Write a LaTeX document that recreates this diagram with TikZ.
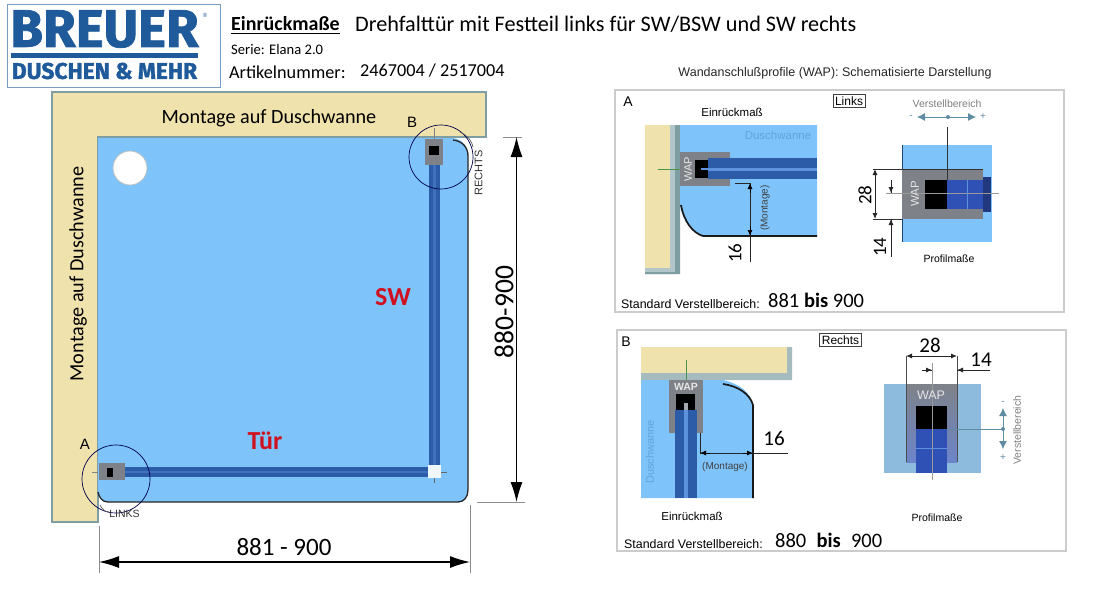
\documentclass[tikz,border=0pt]{standalone}
\usepackage{fontspec}
\setmainfont{Carlito}
\newfontfamily\logofont[BoldFeatures={FakeBold=1.5}]{Fira Sans}
\newfontfamily\helvfont{Liberation Sans}
\usetikzlibrary{arrows.meta}
\definecolor{logoblue}{HTML}{1F5A9A}
\definecolor{tubblue}{HTML}{7EC4FB}
\definecolor{tubbeige}{HTML}{F0E2AC}
\definecolor{wallgrey}{HTML}{7F9EA3}
\definecolor{glassblue}{HTML}{2C5BA8}
\definecolor{glasslight}{HTML}{5C93DC}
\definecolor{wapgrey}{HTML}{7E8288}
\definecolor{paneledge}{HTML}{CCCCCC}
\definecolor{arrowteal}{HTML}{5F8CA2}
\definecolor{markred}{HTML}{D0101E}
\definecolor{palewater}{HTML}{8DBBDD}
\definecolor{tubword}{HTML}{62A3DC}
\definecolor{profileblue}{HTML}{2F50B5}
\tikzset{
  sized/.style={font=\fontsize{#1}{#1}\selectfont},
  helv/.style={font=\helvfont\fontsize{#1}{#1}\selectfont},
  txt/.style={inner sep=0pt},
  marktext/.style={inner sep=0pt,text=markred,font=\bfseries\fontsize{26}{26}\selectfont},
  panelbox/.style={draw=paneledge,line width=1.3pt,fill=white},
  tagbox/.style={draw=black!75,line width=0.8pt,inner sep=2pt,helv=12},
  bigdim/.style={line width=1.2pt,{Latex[length=20pt,width=12pt]}-{Latex[length=20pt,width=12pt]}},
  smalldim/.style={line width=0.9pt,black!85},
  tinytip/.style={-{Latex[length=6pt,width=5pt]}},
  extline/.style={draw=black!45,line width=0.8pt},
  tealtip/.style={draw=arrowteal,line width=0.8pt,-{Latex[length=8pt,width=8pt]}},
  whitewap/.style={inner sep=0pt,text=white!90!black,helv=#1},
}
\begin{document}
\begin{tikzpicture}[x=1pt,y=-1pt]
  \useasboundingbox (0,0) rectangle (1116,592);
  % logo
  \draw[draw=logoblue!60,line width=1pt] (7,4) rectangle (220,87);
  \node[txt,text=logoblue] (brand) at (104.5,29) {\logofont\bfseries\fontsize{53}{53}\selectfont BREUER};
  \node[txt,text=logoblue,helv=6] (regmark) at (205,15) {®};
  \fill[logoblue] (11,53) rectangle (198,58);
  \node[txt,text=logoblue] (slogan) at (104.5,71) {\logofont\bfseries\fontsize{22.8}{22.8}\selectfont DUSCHEN \& MEHR};
  % header
  \node[txt,sized=20,anchor=base west] (title) at (231,30) {\bfseries Einrückmaße};
  \draw[line width=0.9pt] (231,33.5) -- (340,33.5);
  \node[txt,sized=22.2,anchor=base west] (subtitle) at (355,31) {Drehfalttür mit Festteil links für SW/BSW und SW rechts};
  \node[txt,sized=14.6,anchor=base west] (series) at (231,54) {Serie: Elana 2.0};
  \node[txt,sized=18.2,anchor=base west] (articlelabel) at (229,78) {Artikelnummer:};
  \node[txt,sized=18.2,anchor=base west] (articleno) at (360,76) {2467004 / 2517004};
  \node[txt,helv=12.5,text=black!85] (waptitle) at (835,73) {Wandanschlußprofile (WAP): Schematisierte Darstellung};
  % plan
  \draw[fill=tubbeige,draw=wallgrey,line width=2pt] (52,92) -- (486,92) -- (486,137) -- (98,137) -- (98,522) -- (52,522) -- cycle;
  \fill[tubblue] (98,138) -- (453,138) .. controls (462,139) and (468,146) .. (468,156) -- (468,490) .. controls (468,497) and (464,502) .. (458,502) -- (108,502) .. controls (102,502) and (98,497) .. (98,492) -- cycle;
  \draw[line width=1.3pt,black!85] (453,140) .. controls (462,141) and (468,147) .. (468,156) -- (468,490) .. controls (468,497) and (464,502) .. (458,502) -- (108,502) .. controls (102,502) and (99,497) .. (98,492);
  \draw[fill=white,draw=black!25,line width=0.8pt] (130,168) circle (17);
  % glass
  \fill[glassblue] (428.5,150) rectangle (440,466);
  \fill[glassblue!60!glasslight] (433,165) rectangle (435.5,466);
  \fill[glassblue] (120,467) rectangle (428,477);
  \fill[glassblue!60!glasslight] (125,471) rectangle (428,473);
  \fill[black!12!tubblue!10!white] (427.5,465) rectangle (441,478);
  \draw[black!60,line width=0.6pt] (441,472) -- (447,472) (434,478) -- (434,483);
  % wall profiles
  \fill[wapgrey] (425,139) rectangle (443,165);
  \fill[black] (429,146) rectangle (439,155);
  \fill[wapgrey] (98.5,463) rectangle (125,480);
  \fill[black] (107,468) rectangle (113,477);
  \draw[black!50,line width=0.8pt] (434,128) -- (434,139) (92,472) -- (98,472);
  \draw[draw=black!70!blue,line width=0.7pt] (441,157) circle (32) (116,479) circle (34);
  \draw[black!65,line width=0.7pt] (460,132) .. controls (468,136) and (472,141) .. (473,147) (100,505) .. controls (102,509) and (105,512) .. (109,512);
  \node[txt,helv=11,text=black!80,rotate=90] (rechtstag) at (478.5,173) {RECHTS};
  \node[txt,helv=10.5,text=black!80] (linkstag) at (124.5,513.5) {LINKS};
  \node[txt,sized=20.2] (montagetop) at (269,118) {Montage auf Duschwanne};
  \node[txt,sized=20.2,rotate=90] (montageleft) at (78,274) {Montage auf Duschwanne};
  \node[txt,helv=15] (detailB) at (412,122) {B};
  \node[txt,helv=15] (detailA) at (85,444) {A};
  \node[marktext] (fixedpart) at (393,297) {SW};
  \node[marktext] (doorpart) at (265,441) {Tür};
  % overall dimensions
  \coordinate (dimtop) at (516.5,137);
  \coordinate (dimbot) at (516.5,502);
  \coordinate (dimleft) at (99,562);
  \coordinate (dimright) at (470,562);
  \draw[extline] (503,137) -- (522,137);
  \draw[extline] (477,502) -- (525,502);
  \draw[extline] (99,526) -- (99,573);
  \draw[extline] (470,505) -- (470,573);
  \draw[bigdim] (dimtop) -- (dimbot);
  \draw[bigdim] (dimleft) -- (dimright);
  \node[txt,sized=27.5,rotate=90] (heightlabel) at (504,312) {880-900};
  \node[txt,sized=25] (widthlabel) at (284,547) {881 - 900};
  % panel A
  \draw[panelbox] (615,90) rectangle (1064,312);
  \node[txt,helv=14] (panelA) at (628,102) {A};
  \node[tagbox] (linksbox) at (849,101) {Links};
  \node[txt,helv=11.5] (einrueckA) at (732,112) {Einrückmaß};
  \fill[tubbeige] (645,125) rectangle (670,268);
  \fill[wallgrey!60] (670,125) rectangle (675,268) (645,268) rectangle (675,274);
  \fill[wallgrey] (675,125) rectangle (680,274) (645,272) rectangle (680,274);
  \fill[tubblue] (680,125) -- (817,125) -- (817,236) -- (703,236) .. controls (692,232) and (682,220) .. (680,205) -- cycle;
  \draw[line width=1.7pt,black!90] (681,205) .. controls (684,222) and (693,233) .. (703,236) -- (817,236);
  \node[txt,helv=11.5,text=tubword] (tubA) at (778,135) {Duschwanne};
  \fill[wapgrey] (680,152) rectangle (730,186);
  \fill[glassblue] (708,158) rectangle (817,179);
  \fill[glasslight] (700,167.5) rectangle (817,170.5);
  \fill[black] (695,160) rectangle (708,178);
  \fill[glasslight] (701,168) rectangle (708,170);
  \node[whitewap=11,rotate=90] (wapA) at (688,169) {WAP};
  \draw[draw=green!40!black!70,line width=1pt] (658,169) -- (680,169);
  \coordinate (anchorA) at (750,183);
  \coordinate (curveA) at (750,236);
  \coordinate (tailA) at (750,262);
  \draw[smalldim] (735,183) -- (anchorA);
  \draw[smalldim] (anchorA) -- (tailA);
  \draw[smalldim,tinytip,draw=black] (750,193) -- (anchorA);
  \draw[smalldim,tinytip,draw=black] (750,226) -- (curveA);
  \node[txt,sized=19,rotate=90] (sixteenA) at (735,253) {16};
  \node[txt,helv=10,rotate=90,text=black!75] (montageA) at (765,208) {(Montage)};
  \node[txt,helv=12.4,anchor=base west] (stdA) at (621,308) {Standard Verstellbereich:};
  \node[txt,sized=20.5,anchor=base west] (rangeA) at (768,307) {881 \textbf{bis} 900};
  % panel A profile
  \node[txt,helv=10.5,text=black!50] (verstellA) at (947,104) {Verstellbereich};
  \node[txt,helv=10,text=arrowteal] (minusA) at (911,117) {-};
  \node[txt,helv=10,text=arrowteal] (plusA) at (983,117) {+};
  \coordinate (dotA) at (948,117);
  \draw[tealtip] (dotA) -- (917,117);
  \draw[tealtip] (dotA) -- (976,117);
  \fill[arrowteal] (dotA) circle (2);
  \fill[tubblue] (902,145) rectangle (992,242);
  \draw[draw=glassblue!70!black,line width=1pt] (902.5,145) -- (902.5,242);
  \fill[wapgrey] (902,169) rectangle (983,219);
  \fill[black] (925,180) rectangle (947,209);
  \fill[profileblue] (947,180) rectangle (983,209);
  \fill[profileblue!70!black] (983,177) rectangle (991,212);
  \draw[black!80,line width=1pt] (873,169) -- (983,169);
  \draw[black!80,line width=1pt] (873,219) -- (902,219);
  \draw[black!80,line width=1pt] (947,127) -- (947,180);
  \draw[black!40,line width=0.6pt] (886,193) -- (999,193);
  \draw[glasslight,line width=0.6pt] (967,180) -- (967,209);
  \node[whitewap=11.5,rotate=90] (profwapA) at (915,194) {WAP};
  \coordinate (tick28a) at (875,169);
  \coordinate (tick28b) at (875,219);
  \draw[smalldim,{Latex[length=6pt,width=5pt]}-{Latex[length=6pt,width=5pt]}] (tick28a) -- (tick28b);
  \node[txt,sized=19,rotate=90] (twoeightA) at (865,195) {28};
  \coordinate (tick14a) at (891,193);
  \coordinate (tick14b) at (891,219);
  \draw[smalldim] (891,180) -- (tick14a);
  \draw[smalldim,tinytip] (891,182) -- (tick14a);
  \draw[smalldim] (tick14b) -- (891,257);
  \draw[smalldim,tinytip] (891,229) -- (tick14b);
  \node[txt,sized=19,rotate=90] (oneFourA) at (880,247) {14};
  \node[txt,helv=10.5] (profilA) at (949,259) {Profilmaße};
  % panel B
  \draw[panelbox] (617,330) rectangle (1066,551);
  \node[txt,helv=14] (panelB) at (626,342) {B};
  \node[tagbox] (rechtsbox) at (840.5,340) {Rechts};
  \fill[tubbeige] (641,347) rectangle (787,373);
  \fill[wallgrey!70] (641,373) rectangle (792,380) (787,347) rectangle (792,380);
  \fill[tubblue] (641,380) -- (723,380) .. controls (740,384) and (750,392) .. (753,405) -- (753,498) -- (641,498) -- cycle;
  \draw[line width=1.7pt,black!90] (723,384) .. controls (738,386) and (750,394) .. (753,405) -- (753,498);
  \node[txt,helv=11,rotate=90,text=tubword] (tubB) at (650,452) {Duschwanne};
  \fill[wapgrey] (669,380) rectangle (703,433);
  \fill[glassblue] (675,410) rectangle (697,498);
  \fill[glasslight] (684,410) rectangle (688,498);
  \fill[black] (676,394) rectangle (695,410);
  \fill[wapgrey!70] (684,403) rectangle (688,410);
  \draw[draw=green!40!black!70,line width=1pt] (686,360) -- (686,380);
  \node[whitewap=10.5] (wapB) at (686,387) {\bfseries WAP};
  \coordinate (anchorB) at (700,453);
  \coordinate (curveB) at (753,453);
  \coordinate (tailB) at (788,453);
  \draw[smalldim] (700,433) -- (anchorB);
  \draw[smalldim] (anchorB) -- (tailB);
  \draw[smalldim,tinytip,draw=black] (710,453) -- (anchorB);
  \draw[smalldim,tinytip,draw=black] (743,453) -- (curveB);
  \node[txt,sized=21] (sixteenB) at (774,438) {16};
  \node[txt,helv=10,text=black!75] (montageB) at (725,467) {(Montage)};
  \node[txt,helv=11.5] (einrueckB) at (692,516) {Einrückmaß};
  \node[txt,helv=12.4,anchor=base west] (stdB) at (624,548) {Standard Verstellbereich:};
  \node[txt,sized=20.5,anchor=base west] (rangeB) at (775,547) {880\enspace\textbf{bis}\enspace 900};
  % panel B profile
  \fill[palewater] (884,384) rectangle (981,473);
  \shade[top color=wapgrey,bottom color=wapgrey!60!blue!50!palewater] (906,384) rectangle (957,462);
  \draw[black!70,line width=1pt] (906,356) -- (906,462) (957,356) -- (957,462);
  \fill[black] (916,406) rectangle (947,429);
  \fill[profileblue] (916,429) rectangle (947,473);
  \draw[black!40,line width=0.6pt] (932,363) -- (932,480);
  \draw[glasslight,line width=0.6pt] (916,448) -- (947,448);
  \node[whitewap=12.5] (profwapB) at (931,395) {WAP};
  \coordinate (tick28c) at (906,356);
  \coordinate (tick28d) at (957,356);
  \draw[smalldim,{Latex[length=6pt,width=5pt]}-{Latex[length=6pt,width=5pt]}] (tick28c) -- (tick28d);
  \node[txt,sized=21] (twoeightB) at (930,345) {28};
  \coordinate (tick14c) at (932,370);
  \coordinate (tick14d) at (957,370);
  \draw[smalldim] (922,370) -- (tick14c);
  \draw[smalldim,tinytip] (924,370) -- (tick14c);
  \draw[smalldim] (tick14d) -- (990,370);
  \draw[smalldim,tinytip] (967,370) -- (tick14d);
  \node[txt,sized=21] (oneFourB) at (981,360) {14};
  \node[txt,helv=10.5,rotate=90,text=black!50] (verstellB) at (1017,430) {Verstellbereich};
  \node[txt,helv=10,text=arrowteal] (minusB) at (1003,403) {-};
  \node[txt,helv=10,text=arrowteal] (plusB) at (1003,458) {+};
  \coordinate (dotB) at (1003,429);
  \draw[draw=arrowteal,line width=0.8pt] (947,429) -- (dotB);
  \draw[tealtip] (dotB) -- (1003,408);
  \draw[tealtip] (dotB) -- (1003,449);
  \fill[arrowteal] (dotB) circle (2);
  \node[txt,helv=10.5] (profilB) at (937,518) {Profilmaße};
\end{tikzpicture}
\end{document}
